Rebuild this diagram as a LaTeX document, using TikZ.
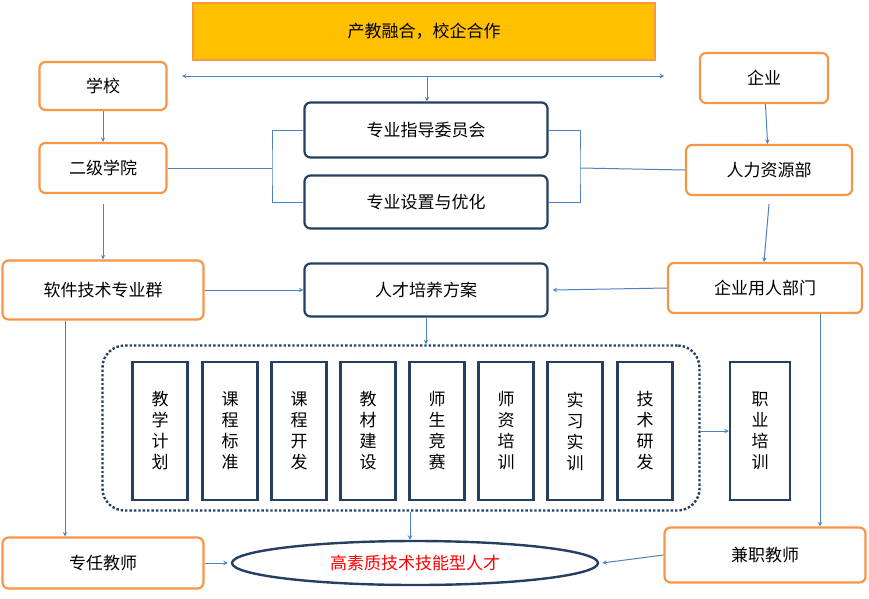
\documentclass[tikz,border=0pt]{standalone}
\usepackage{fontspec}
\setmainfont{Noto Sans CJK SC}
\usetikzlibrary{shapes.geometric}
\definecolor{org}{HTML}{F79646}
\definecolor{gold}{HTML}{FFC000}
\definecolor{navy}{HTML}{243F60}
\definecolor{arr}{HTML}{4F81BD}
\begin{document}
\begin{tikzpicture}[x=1pt,y=-1pt,
 ob/.style={draw=org,line width=2.2pt,rounded corners=6pt,fill=white,font=\fontsize{17}{20}\selectfont},
 nb/.style={draw=navy,line width=2.2pt,rounded corners=6pt,fill=white,font=\fontsize{17}{20}\selectfont},
 vb/.style={draw=navy,line width=2.4pt,fill=white,minimum width=55pt,minimum height=138pt,align=center,font=\fontsize{17}{21}\selectfont},
 ar/.style={draw=arr,line width=1pt,-stealth},
 ln/.style={draw=arr,line width=1pt}]
\useasboundingbox (0,0) rectangle (869,598);
\node[draw=org,line width=2pt,fill=gold,minimum width=462pt,minimum height=57pt,font=\fontsize{17}{20}\selectfont] (t) at (424,31) {产教融合，校企合作};
\node[ob,minimum width=127pt,minimum height=48pt] (xx) at (103,86) {学校};
\node[ob,minimum width=128pt,minimum height=50pt] (qy) at (764,78) {企业};
\node[nb,minimum width=243pt,minimum height=55pt] (zd) at (426,130) {专业指导委员会};
\node[nb,minimum width=243pt,minimum height=53pt] (sz) at (426,202) {专业设置与优化};
\node[ob,minimum width=127pt,minimum height=50pt] (ej) at (103,168) {二级学院};
\node[ob,minimum width=166pt,minimum height=50pt] (rl) at (769,170) {人力资源部};
\node[ob,minimum width=201pt,minimum height=59pt] (rj) at (103,290) {软件技术专业群};
\node[nb,minimum width=243pt,minimum height=53pt] (pf) at (426,290) {人才培养方案};
\node[ob,minimum width=194pt,minimum height=50pt] (yr) at (765,288) {企业用人部门};
\node[draw=navy,line width=2.4pt,dotted,rounded corners=22pt,minimum width=597pt,minimum height=165pt] (dot) at (401,428) {};
\foreach \x/\t [count=\i] in {160/教\\学\\计\\划,230/课\\程\\标\\准,299/课\\程\\开\\发,368/教\\材\\建\\设,437/师\\生\\竞\\赛,506/师\\资\\培\\训,575/实\\习\\实\\训,645/技\\术\\研\\发}
  \node[vb] (v\i) at (\x,431) {\t};
\node[vb,minimum width=60pt] (zy) at (760,431) {职\\业\\培\\训};
\node[ob,minimum width=201pt,minimum height=51pt] (zr) at (103,563) {专任教师};
\node[ob,minimum width=201pt,minimum height=55pt] (jz) at (765,555) {兼职教师};
\node[draw=navy,line width=2.4pt,ellipse,minimum width=366pt,minimum height=44pt,text=red,font=\fontsize{17}{20}\selectfont] (rc) at (415,563) {高素质技术技能型人才};
\coordinate (dl) at (182,76); \coordinate (dr) at (664,76); \coordinate (dm) at (427,76);
\draw[ar,stealth-stealth] (dl) -- (dr);
\draw[ar] (dm) -- (zd.north -| dm);
\draw[ar] (xx) -- (ej);
\draw[ar] (qy) -- (rl);
\draw[ar] (ej.south) ++(0,10) -- (rj.north);
\draw[ar] (rl.south) ++(0,8) -- ([xshift=-1pt]yr.north);
\coordinate (bl) at (272,168); \coordinate (br) at (580,168);
\draw[ln] (ej.east) -- (bl);
\draw[ln] (zd.west) -| (bl) |- (sz.west);
\draw[ln] (rl.west) -- (br);
\draw[ln] (zd.east) -| (br) |- (sz.east);
\draw[ar] (rj.east) -- (pf.west);
\draw[ar] (yr.west) -- ([xshift=4pt]pf.east);
\draw[ar] (pf.south) -- (dot.north -| pf.south);
\draw[ar] (dot.east |- zy) -- (zy.west);
\draw[ar] (rj.south -| 65,0) -- (zr.north -| 65,0);
\draw[ar] (yr.south -| 820,0) -- (jz.north -| 820,0);
\draw[ar] (dot.south -| 410,0) -- (rc.north -| 410,0);
\draw[ar] (zr.east) -- ([xshift=-3pt]rc.west);
\draw[ar] (jz.west) -- ([xshift=3pt]rc.east);
\end{tikzpicture}
\end{document}
